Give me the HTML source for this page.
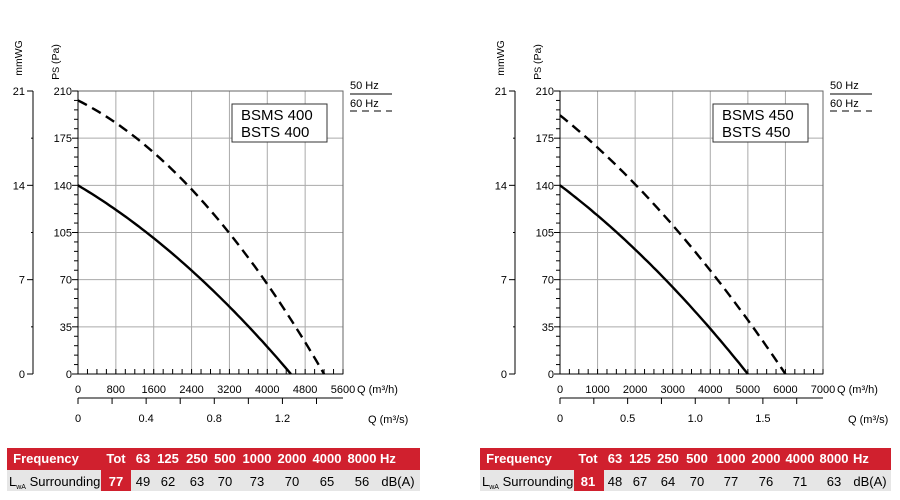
<!DOCTYPE html>
<html><head><meta charset="utf-8"><style>
body{margin:0;background:#fff;width:900px;height:500px;overflow:hidden;font-family:"Liberation Sans",Arial,sans-serif}
svg{position:absolute;left:0;top:0}
</style></head><body>
<svg id="s" width="900" height="500" xmlns="http://www.w3.org/2000/svg" font-family="Liberation Sans, Arial, sans-serif"></svg>
<script>
var s=document.getElementById('s'),h='';
function L(x1,y1,x2,y2,c,w,d){h+='<line x1="'+x1+'" y1="'+y1+'" x2="'+x2+'" y2="'+y2+'" stroke="'+(c||'#000')+'" stroke-width="'+(w||1)+'"'+(d?' stroke-dasharray="'+d+'"':'')+'/>';}
function T(x,y,t,sz,a,extra){h+='<text x="'+x+'" y="'+y+'" font-size="'+(sz||11)+'" text-anchor="'+(a||'start')+'" '+(extra||'')+'>'+t+'</text>';}
function R(x,y,w,hh,f,st){h+='<rect x="'+x+'" y="'+y+'" width="'+w+'" height="'+hh+'" fill="'+f+'"'+(st?' stroke="'+st+'"':'')+'/>';}
function chart(o){
 var x0=o.x0,x1=o.x1,y0=91,y1=374,W=x1-x0,H=y1-y0;
 var X=function(q){return x0+q/o.qmax*W},Y=function(p){return y1-p/210*H};
 for(var i=1;i<7;i++){L(X(i*o.qmax/7),y0,X(i*o.qmax/7),y1,'#aaa',1);}
 for(var j=1;j<6;j++){L(x0,Y(j*35),x1,Y(j*35),'#aaa',1);}
 R(x0,y0,W,H,'none','#666');
 L(x0,y0,x0,y1,'#000',1);L(x0,y1,x1,y1,'#000',1);
 for(var p=0;p<=210;p+=7){var maj=p%35==0;L(x0-(maj?6:4),Y(p),x0,Y(p),'#000',1);}
 for(var p=0;p<=210;p+=35){T(x0-6,Y(p)+4,p,11,'end');}
 var mx=o.x0-45;L(mx,y0,mx,y1,'#000',1);
 [0,7,14,21].forEach(function(m){L(mx-6,Y(m*10),mx,Y(m*10),'#000',1);T(mx-8,Y(m*10)+4,m,11,'end');});
 [3.5,10.5,17.5].forEach(function(m){L(mx-2,Y(m*10),mx,Y(m*10),'#000',1);});
 h+='<text x="0" y="0" font-size="10.5" text-anchor="middle" transform="translate('+(mx-11)+',58) rotate(-90)">mmWG</text>';
 h+='<text x="0" y="0" font-size="10.5" text-anchor="middle" transform="translate('+(x0-19)+',62) rotate(-90)">P<tspan font-size="9">S</tspan> (Pa)</text>';
 for(var q=0;q<=o.qmax+1;q+=o.qmax/28){L(X(q),y1,X(q),y1-5,'#000',1);}
 o.xl.forEach(function(v){T(X(v),y1+19,v,11,'middle');});
 T(x1+14,y1+19,'Q (m³/h)',11,'start');
 var yb=398;L(x0,yb,x1,yb,'#000',1);
 for(var v=0;v*3600<=o.qmax;v+=o.sstep/2){L(X(v*3600),yb,X(v*3600),yb+6,'#000',1);}
 o.sl.forEach(function(v){T(X(v*3600),yb+24,o.fmt(v),11,'middle');});
 T(x1+25,yb+25,'Q (m³/s)',11,'start');
 function curve(P0,Qm,c,d){var pts=[];for(var k=0;k<=60;k++){var u=k/60;pts.push(X(Qm*u).toFixed(1)+','+Y(P0*(1-c*u-(1-c)*u*u)).toFixed(1));}
  h+='<polyline points="'+pts.join(' ')+'" fill="none" stroke="#000" stroke-width="2.4"'+(d?' stroke-dasharray="10,6"':'')+'/>';}
 curve(140,o.s[0],o.s[1],0);curve(o.d[0],o.d[1],o.d[2],1);
 R(o.bx,104,95,38,'#fff','#333');
 T(o.bx+9,120,o.t1,15,'start');T(o.bx+9,137,o.t2,15,'start');
 T(x1+7,89,'50 Hz',11);L(x1+7,94,x1+49,94,'#000',1);
 T(x1+7,107,'60 Hz',11);L(x1+7,111,x1+49,111,'#000',1,'7,5');
 var tx=o.tx,tw=o.tw;
 R(tx,448,tw,22,'#d0202e');R(tx,470,tw,21,'#e6e6e6');R(o.tot,470,30,21,'#d0202e');
 T(tx+39,463,'Frequency',13,'middle','font-weight="bold" fill="#fff"');
 var cols=o.cols;var hd=['Tot','63','125','250','500','1000','2000','4000','8000','Hz'];
 hd.forEach(function(t,i){T(cols[i],463,t,13,i==9?'start':'middle','font-weight="bold" fill="#fff"');});
 h+='<text x="'+(tx+2)+'" y="486" font-size="13">L<tspan font-size="7" dy="3">wA</tspan><tspan dy="-3"> Surrounding</tspan></text>';
 o.vals.forEach(function(t,i){T(i==9?o.db:cols[i],486,t,13,'middle',i==0?'fill="#fff" font-weight="bold"':'');});
}
chart({x0:78,x1:343,qmax:5600,xl:[0,800,1600,2400,3200,4000,4800,5600],sstep:0.4,sl:[0,0.4,0.8,1.2],fmt:function(v){return v==0?'0':String(v)},
 s:[4500,0.67],d:[203,5200,0.45],bx:232,t1:'BSMS 400',t2:'BSTS 400',tx:7,tw:413,tot:101,db:398,
 cols:[116,143,168,197,225,257,292,327,362,380],vals:['77','49','62','63','70','73','70','65','56','dB(A)']});
chart({x0:560,x1:823,qmax:7000,xl:[0,1000,2000,3000,4000,5000,6000,7000],sstep:0.5,sl:[0,0.5,1.0,1.5],fmt:function(v){return v==0?'0':v.toFixed(1)},
 s:[5000,0.75],d:[192,6000,0.7],bx:713,t1:'BSMS 450',t2:'BSTS 450',tx:480,tw:411,tot:574,db:870,
 cols:[588,615,640,668,697,731,766,800,834,853],vals:['81','48','67','64','70','77','76','71','63','dB(A)']});
s.innerHTML=h;
</script>
</body></html>
